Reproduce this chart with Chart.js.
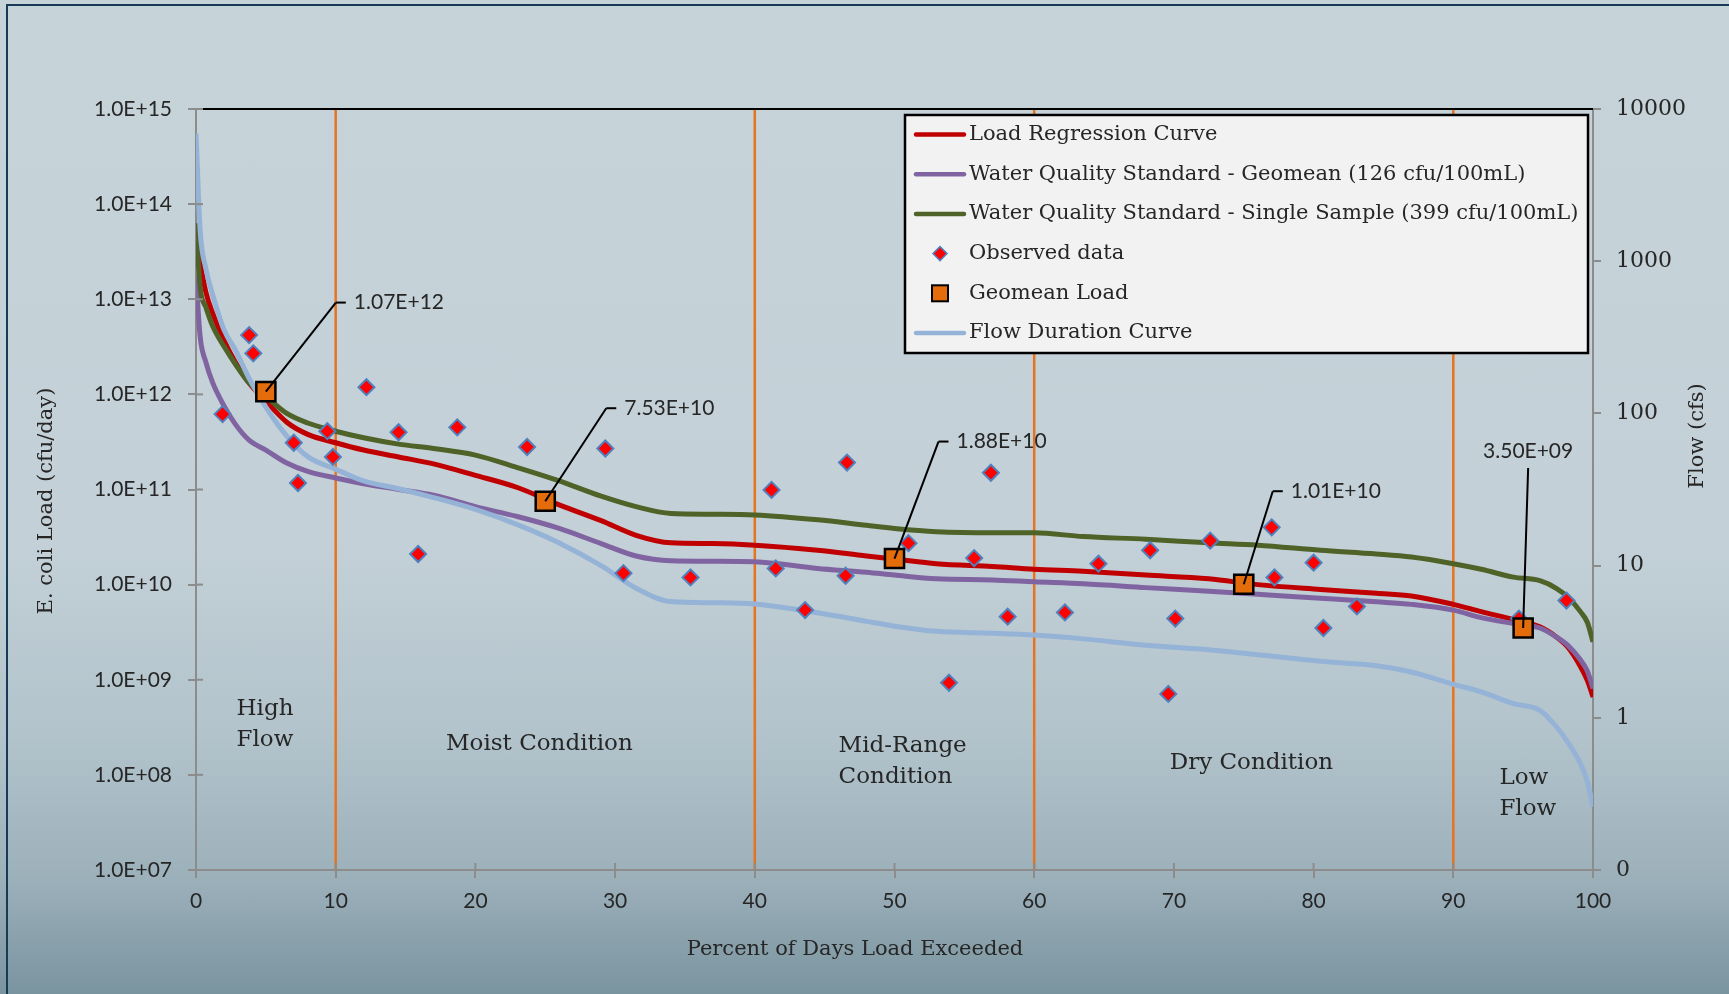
<!DOCTYPE html>
<html>
<head>
<meta charset="utf-8">
<title>E. coli Load Duration Curve</title>
<script src="https://cdn.jsdelivr.net/npm/chart.js@4.4.1/dist/chart.umd.min.js"></script>
<style>
  html, body { margin: 0; padding: 0; }
  body {
    width: 1729px; height: 994px; overflow: hidden; position: relative;
    background: linear-gradient(to bottom, #c6d3d9 0%, #c3d0d7 55%, #b2c3cb 74%, #9db1bb 88%, #7a949f 100%);
  }
  #frame {
    position: absolute; left: 6px; top: 4px; right: -10px; bottom: -10px;
    border-left: 2px solid #173a56; border-top: 2px solid #173a56; pointer-events: none;
  }
  canvas { position: absolute; left: 0; top: 0; }
</style>
</head>
<body>
<canvas id="loadChart" width="1729" height="994"></canvas>
<div id="frame"></div>
<script>
// percent of days exceeded, shared by the four duration curves
const curvePct = [0, 0.3, 0.7, 1.2, 2, 2.8, 3.8, 5, 6.5, 8,
  10, 12, 14.5, 17, 20, 23, 26, 29, 31.5, 34,
  37, 40, 44.5, 48, 50, 53, 57, 60, 63.5, 68,
  72.5, 76, 80.5, 84.5, 87, 90, 92, 94.3, 96.2, 97.4,
  98.2, 99.1, 99.6, 100];

// cfu/day
const loadRegression = [5.6e13, 2.5e13, 1.2e13, 7.1e12, 3.7e12, 2.2e12, 1.32e12, 8.5e11, 5.1e11, 3.8e11,
  3.1e11, 2.6e11, 2.2e11, 1.86e11, 1.41e11, 1.05e11, 6.9e10, 4.7e10, 3.3e10, 2.75e10,
  2.7e10, 2.6e10, 2.3e10, 2.0e10, 1.86e10, 1.66e10, 1.55e10, 1.45e10, 1.38e10, 1.26e10,
  1.15e10, 1.0e10, 8.9e9, 8.1e9, 7.6e9, 6.2e9, 5.2e9, 4.3e9, 3.6e9, 2.8e9,
  2.2e9, 1.38e9, 9.8e8, 6.6e8];
const wqsGeomean = [1.74e13, 4.0e12, 2.2e12, 1.32e12, 7.6e11, 4.9e11, 3.3e11, 2.6e11, 1.9e11, 1.55e11,
  1.32e11, 1.15e11, 1.0e11, 8.7e10, 6.6e10, 5.2e10, 3.9e10, 2.7e10, 2.0e10, 1.78e10,
  1.76e10, 1.74e10, 1.48e10, 1.35e10, 1.26e10, 1.15e10, 1.12e10, 1.07e10, 1.02e10, 9.3e9,
  8.5e9, 7.9e9, 7.2e9, 6.6e9, 6.2e9, 5.4e9, 4.5e9, 3.9e9, 3.5e9, 2.8e9,
  2.3e9, 1.62e9, 1.23e9, 8.1e8];
const wqsSingleSample = [6.3e13, 1.32e13, 8.3e12, 5.2e12, 3.2e12, 2.1e12, 1.32e12, 9.5e11, 6.3e11, 5.0e11,
  4.1e11, 3.5e11, 3.0e11, 2.7e11, 2.3e11, 1.7e11, 1.23e11, 8.5e10, 6.6e10, 5.6e10,
  5.5e10, 5.4e10, 4.8e10, 4.2e10, 3.9e10, 3.6e10, 3.5e10, 3.5e10, 3.2e10, 3.0e10,
  2.75e10, 2.6e10, 2.3e10, 2.1e10, 1.95e10, 1.66e10, 1.45e10, 1.2e10, 1.1e10, 9.1e9,
  7.4e9, 5.2e9, 4.0e9, 2.5e9];
// cfs, right axis
const flowDuration = [6900, 1580, 900, 600, 355, 263, 170, 110, 71, 52,
  43, 36, 32, 28, 23.4, 18.6, 14.1, 10, 7.1, 5.8,
  5.7, 5.6, 4.9, 4.3, 4.0, 3.7, 3.6, 3.5, 3.3, 3.0,
  2.8, 2.6, 2.35, 2.2, 2.0, 1.66, 1.48, 1.24, 1.12, 0.87,
  0.69, 0.50, 0.38, 0.26];

const obsPct = [1.9, 3.8, 4.1, 7.0, 7.3, 9.4, 9.8, 12.2, 14.5, 15.9,
  18.7, 23.7, 29.3, 30.6, 35.4, 41.2, 41.5, 43.6, 46.5, 46.6,
  51.0, 53.9, 55.7, 56.9, 58.1, 62.2, 64.6, 68.3, 69.6, 70.1,
  72.6, 77.0, 77.2, 80.0, 80.7, 83.1, 94.7, 98.1];
const obsLoad = [6.2e11, 4.2e12, 2.7e12, 3.1e11, 1.17e11, 4.1e11, 2.2e11, 1.19e12, 4.0e11, 2.1e10,
  4.5e11, 2.8e11, 2.7e11, 1.32e10, 1.19e10, 9.9e10, 1.48e10, 5.4e9, 1.24e10, 1.92e11,
  2.73e10, 9.3e8, 1.9e10, 1.5e11, 4.6e9, 5.1e9, 1.66e10, 2.3e10, 7.1e8, 4.4e9,
  2.9e10, 4.0e10, 1.19e10, 1.7e10, 3.5e9, 5.9e9, 4.4e9, 6.8e9];

const geoPct = [5, 25, 50, 75, 95];
const geoLoad = [1.07e12, 7.53e10, 1.88e10, 1.01e10, 3.50e9];
const geoLabels = ['1.07E+12', '7.53E+10', '1.88E+10', '1.01E+10', '3.50E+09'];

const conditionBounds = [10, 40, 60, 90];
const conditionNames = [['High', 'Flow'], ['Moist Condition'], ['Mid-Range', 'Condition'], ['Dry Condition'], ['Low', 'Flow']];

const seriesNames = ['Load Regression Curve', 'Water Quality Standard - Geomean (126 cfu/100mL)',
  'Water Quality Standard - Single Sample (399 cfu/100mL)', 'Observed data', 'Geomean Load', 'Flow Duration Curve'];

const pctTicks = [0, 10, 20, 30, 40, 50, 60, 70, 80, 90, 100];
const loadTicks = [1e7, 1e8, 1e9, 1e10, 1e11, 1e12, 1e13, 1e14, 1e15];
const loadTickLabels = ['1.0E+07', '1.0E+08', '1.0E+09', '1.0E+10', '1.0E+11', '1.0E+12', '1.0E+13', '1.0E+14', '1.0E+15'];
const flowTicks = [0.1, 1, 10, 100, 1000, 10000];
const flowTickLabels = ['0', '1', '10', '100', '1000', '10000'];

// styling
const colors = { red: '#c00000', purple: '#8064a2', green: '#4f6228', blue: '#95b3d7', orange: '#e8731f',
  box: '#e46c0a', diamond: '#ff0000', diamondEdge: '#4f81bd', axis: '#8c8c8c', text: '#262626' };
const serif = '"DejaVu Serif", "Liberation Serif", serif';
const sans = 'Lato, "Open Sans", sans-serif';

// where each condition label sits, in data units (left edge, middle of first line)
const conditionLabelAt = [{ x: 2.9, y: 4.9e8 }, { x: 17.9, y: 2.1e8 }, { x: 46.0, y: 2.0e8 }, { x: 69.7, y: 1.33e8 }, { x: 93.3, y: 9.2e7 }];
// leader line from geomean box to its label, in pixels
const leaders = [{ dx: 70, dy: -89 }, { dx: 61, dy: -93 }, { dx: 44, dy: -117 }, { dx: 29, dy: -93 }, { dx: 5, dy: -160, above: true }];

function pairs(xs, ys) {
  return xs.map((x, i) => ({ x: x, y: ys[i] }));
}

function curve(label, data, color, axis, order) {
  return {
    label: label, data: data, yAxisID: axis, order: order,
    showLine: true, borderColor: color, backgroundColor: color, borderWidth: 5,
    pointRadius: 0, cubicInterpolationMode: 'monotone'
  };
}

const datasets = [
  { label: seriesNames[4], data: pairs(geoPct, geoLoad), yAxisID: 'y', order: 0,
    pointStyle: 'rect', pointRadius: 13.5, backgroundColor: colors.box, borderColor: '#000', borderWidth: 2.5 },
  { label: seriesNames[3], data: pairs(obsPct, obsLoad), yAxisID: 'y', order: 1,
    pointStyle: 'rectRot', pointRadius: 8, backgroundColor: colors.diamond, borderColor: colors.diamondEdge, borderWidth: 2 },
  curve(seriesNames[5], pairs(curvePct, flowDuration), colors.blue, 'y2', 2),
  curve(seriesNames[2], pairs(curvePct, wqsSingleSample), colors.green, 'y', 3),
  curve(seriesNames[1], pairs(curvePct, wqsGeomean), colors.purple, 'y', 4),
  curve(seriesNames[0], pairs(curvePct, loadRegression), colors.red, 'y', 5)
];
conditionBounds.forEach(b => {
  datasets.push({ label: '', data: [{ x: b, y: loadTicks[0] }, { x: b, y: loadTicks[loadTicks.length - 1] }],
    yAxisID: 'y', order: 6, showLine: true, borderColor: colors.orange, borderWidth: 2.5, pointRadius: 0 });
});

function strokeLine(ctx, x1, y1, x2, y2) {
  ctx.beginPath();
  ctx.moveTo(x1, y1);
  ctx.lineTo(x2, y2);
  ctx.stroke();
}

const decorations = {
  id: 'decorations',
  afterDraw(chart) {
    const { ctx, chartArea: area } = chart;
    const x = chart.scales.x, y = chart.scales.y;
    ctx.save();

    // black top edge of the plot
    ctx.strokeStyle = '#000';
    ctx.lineWidth = 2;
    strokeLine(ctx, area.left + 7, area.top, area.right, area.top);

    // inner half of the crossing tick marks
    ctx.strokeStyle = colors.axis;
    y.ticks.forEach(t => {
      const py = y.getPixelForValue(t.value);
      strokeLine(ctx, area.left, py, area.left + 7, py);
    });
    x.ticks.forEach(t => {
      const px = x.getPixelForValue(t.value);
      strokeLine(ctx, px, area.bottom, px, area.bottom - 7);
    });

    // flow condition names
    ctx.fillStyle = colors.text;
    ctx.font = '23px ' + serif;
    ctx.textAlign = 'left';
    ctx.textBaseline = 'middle';
    conditionNames.forEach((lines, i) => {
      const px = x.getPixelForValue(conditionLabelAt[i].x);
      const py = y.getPixelForValue(conditionLabelAt[i].y);
      lines.forEach((t, j) => ctx.fillText(t, px, py + j * 31));
    });

    // geomean load labels with leader lines
    ctx.strokeStyle = '#000';
    ctx.lineWidth = 2;
    ctx.font = '21px ' + sans;
    geoPct.forEach((p, i) => {
      const bx = x.getPixelForValue(p);
      const by = y.getPixelForValue(geoLoad[i]);
      const l = leaders[i];
      const tx = bx + l.dx, ty = by + l.dy;
      strokeLine(ctx, bx, by, tx, ty);
      if (l.above) {
        ctx.textAlign = 'center';
        ctx.fillText(geoLabels[i], tx, ty - 17);
      } else {
        strokeLine(ctx, tx, ty, tx + 10, ty);
        ctx.textAlign = 'left';
        ctx.fillText(geoLabels[i], tx + 18, ty);
      }
    });

    // axis titles
    ctx.font = '21px ' + serif;
    ctx.textAlign = 'center';
    ctx.fillText('Percent of Days Load Exceeded', 855, 950);
    ctx.save();
    ctx.translate(47, 501);
    ctx.rotate(-Math.PI / 2);
    ctx.fillText('E. coli Load (cfu/day)', 0, 0);
    ctx.restore();
    ctx.save();
    ctx.translate(1698, 436);
    ctx.rotate(-Math.PI / 2);
    ctx.fillText('Flow (cfs)', 0, 0);
    ctx.restore();

    // legend box
    const lx = area.right - 688, ly = area.top + 6, lw = 683, lh = 238;
    ctx.fillStyle = '#f2f2f2';
    ctx.fillRect(lx, ly, lw, lh);
    ctx.strokeStyle = '#000';
    ctx.lineWidth = 2.5;
    ctx.strokeRect(lx, ly, lw, lh);
    const entries = [
      { kind: 'line', color: colors.red }, { kind: 'line', color: colors.purple },
      { kind: 'line', color: colors.green }, { kind: 'diamond' }, { kind: 'square' },
      { kind: 'line', color: colors.blue }
    ];
    ctx.font = '21px ' + serif;
    ctx.textAlign = 'left';
    entries.forEach((e, i) => {
      const cy = ly + 19.5 + i * 39.7;
      const sx = lx + 9;
      if (e.kind === 'line') {
        ctx.strokeStyle = e.color;
        ctx.lineWidth = 4.5;
        ctx.lineCap = 'round';
        strokeLine(ctx, sx + 2, cy, sx + 50, cy);
        ctx.lineCap = 'butt';
      } else if (e.kind === 'diamond') {
        ctx.beginPath();
        ctx.moveTo(sx + 26, cy - 7);
        ctx.lineTo(sx + 33, cy);
        ctx.lineTo(sx + 26, cy + 7);
        ctx.lineTo(sx + 19, cy);
        ctx.closePath();
        ctx.fillStyle = colors.diamond;
        ctx.fill();
        ctx.strokeStyle = colors.diamondEdge;
        ctx.lineWidth = 1.5;
        ctx.stroke();
      } else {
        ctx.fillStyle = colors.box;
        ctx.fillRect(sx + 18, cy - 8, 16, 16);
        ctx.strokeStyle = '#000';
        ctx.lineWidth = 2;
        ctx.strokeRect(sx + 18, cy - 8, 16, 16);
      }
      ctx.fillStyle = colors.text;
      ctx.fillText(seriesNames[i], lx + 64, cy);
    });

    ctx.restore();
  }
};

const axisGrid = { drawOnChartArea: false, color: colors.axis, lineWidth: 2, tickLength: 8 };
const axisBorder = { color: colors.axis, width: 2 };

new Chart(document.getElementById('loadChart'), {
  type: 'scatter',
  data: { datasets: datasets },
  options: {
    responsive: false,
    devicePixelRatio: 1,
    animation: false,
    events: [],
    layout: { padding: { top: 109, left: 0, right: 0, bottom: 0 } },
    plugins: { legend: { display: false }, tooltip: { enabled: false } },
    scales: {
      x: {
        type: 'linear', min: 0, max: 100,
        grid: axisGrid, border: axisBorder,
        afterBuildTicks: s => { s.ticks = pctTicks.map(v => ({ value: v })); },
        afterFit: s => { s.height = 124; },
        ticks: { color: colors.text, font: { family: sans, size: 21 }, padding: 11, maxRotation: 0 }
      },
      y: {
        type: 'logarithmic', position: 'left', min: loadTicks[0], max: loadTicks[loadTicks.length - 1],
        grid: axisGrid, border: axisBorder,
        afterBuildTicks: s => { s.ticks = loadTicks.map(v => ({ value: v })); },
        afterFit: s => { s.width = 196; },
        ticks: { color: colors.text, font: { family: sans, size: 21 }, padding: 16,
          callback: (v, i) => loadTickLabels[i] }
      },
      y2: {
        type: 'logarithmic', position: 'right', min: flowTicks[0], max: flowTicks[flowTicks.length - 1],
        grid: axisGrid, border: axisBorder,
        afterBuildTicks: s => { s.ticks = flowTicks.map(v => ({ value: v })); },
        afterFit: s => { s.width = 136; },
        ticks: { color: colors.text, font: { family: serif, size: 22 }, padding: 15,
          callback: (v, i) => flowTickLabels[i] }
      }
    }
  },
  plugins: [decorations]
});
</script>
</body>
</html>
